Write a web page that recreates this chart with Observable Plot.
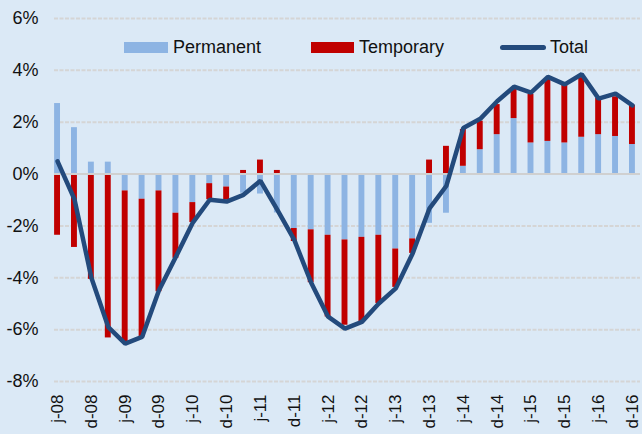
<!DOCTYPE html>
<html>
<head>
<meta charset="utf-8">
<script src="https://cdn.jsdelivr.net/npm/d3@7"></script>
<script src="https://cdn.jsdelivr.net/npm/@observablehq/plot@0.6"></script>
<style>
  html, body { margin: 0; padding: 0; background: #dbe9f6; }
  #wrap { position: relative; width: 642px; height: 434px; background: #dbe9f6; font-family: "Liberation Sans", Arial, sans-serif; }
  .legend { position: absolute; top: 36px; left: 0; width: 642px; height: 22px; font-size: 18px; color: #111; }
  .item { position: absolute; top: 0; display: flex; align-items: center; height: 22px; white-space: nowrap; }
  .sw { display: inline-block; width: 44px; height: 11px; margin-right: 5px; }
  .ln { display: inline-block; width: 46px; height: 5px; border-radius: 3px; margin-right: 4px; }
</style>
</head>
<body>
<div id="wrap"></div>
<script>
const quarters = ["j-08","s-08","d-08","m-09","j-09","s-09","d-09","m-10","j-10","s-10","d-10","m-11","j-11","s-11","d-11","m-12","j-12","s-12","d-12","m-13","j-13","s-13","d-13","m-14","j-14","s-14","d-14","m-15","j-15","s-15","d-15","m-16","j-16","s-16","d-16"];
const tickLabels = ["j-08","d-08","j-09","d-09","j-10","d-10","j-11","d-11","j-12","d-12","j-13","d-13","j-14","d-14","j-15","d-15","j-16","d-16"];
const permanent = [2.72,1.79,0.46,0.46,-0.65,-0.97,-0.65,-1.51,-1.10,-0.37,-0.50,-0.74,-0.77,-1.50,-2.10,-2.15,-2.36,-2.54,-2.44,-2.36,-2.89,-2.50,-1.90,-1.51,0.30,0.94,1.52,2.14,1.20,1.26,1.20,1.42,1.52,1.45,1.14];
const temporary = [-2.36,-2.83,-4.06,-6.32,-5.83,-5.31,-3.89,-1.74,-0.77,-0.62,-0.50,0.14,0.54,0.14,-0.50,-2.04,-3.15,-3.29,-3.26,-2.63,-1.48,-0.56,0.54,1.07,1.42,1.10,1.16,1.12,1.87,2.39,2.22,2.30,1.40,1.53,1.51];
const total = [0.49,-0.97,-4.00,-5.90,-6.54,-6.28,-4.48,-3.19,-1.87,-0.99,-1.06,-0.80,-0.26,-1.38,-2.54,-4.19,-5.50,-5.96,-5.70,-4.99,-4.41,-3.06,-1.32,-0.45,1.78,2.13,2.81,3.37,3.14,3.75,3.46,3.85,2.91,3.10,2.65];
const yTicks = [-8,-6,-4,-2,0,2,4,6];

const colors = {Permanent: "#8db4e3", Temporary: "#c00000", Total: "#234a7c"};

const bars = [];
quarters.forEach((q, i) => {
  bars.push({q, type: "Permanent", v: permanent[i]});
  bars.push({q, type: "Temporary", v: temporary[i]});
});
const lineData = quarters.map((q, i) => ({q, v: total[i]}));

const chart = Plot.plot({
  width: 642,
  height: 434,
  marginTop: 18,
  marginBottom: 53,
  marginLeft: 54,
  marginRight: 2,
  style: {background: "transparent", fontFamily: "Liberation Sans, Arial, sans-serif", fontSize: "18px", color: "#111"},
  x: {type: "band", domain: quarters, range: [48.6, 640.4], padding: 0, ticks: tickLabels, tickSize: 0, tickPadding: 13, tickRotate: -90, label: null},
  y: {domain: [-8, 6], ticks: yTicks, tickSize: 0, tickPadding: 16, tickFormat: d => d + "%", label: null},
  marks: [
    Plot.ruleY(yTicks.filter(d => d !== 0), {stroke: "#d5d5d5", strokeWidth: 2, strokeDasharray: "4,1.5"}),
    Plot.barY(bars, Plot.stackY({order: ["Permanent","Temporary"], x: "q", y: "v", z: "type", fill: d => colors[d.type], insetLeft: 5.5, insetRight: 5.5})),
    Plot.ruleY([0], {stroke: "#d0d0d0", strokeWidth: 2}),
    Plot.lineY(lineData, {x: "q", y: "v", stroke: colors.Total, strokeWidth: 4.5, strokeLinejoin: "miter", strokeLinecap: "round"})
  ]
});
chart.querySelectorAll("g[aria-label='x-axis tick label']").forEach(g => g.setAttribute("font-size", "17"));
chart.querySelectorAll("g[aria-label='x-axis tick label'] text").forEach(t => t.style.fontSize = "17px");
const wrap = document.getElementById("wrap");
wrap.appendChild(chart);

const legend = document.createElement("div");
legend.className = "legend";
legend.innerHTML = `
  <div class="item" style="left:124px"><span class="sw" style="background:${colors.Permanent}"></span>Permanent</div>
  <div class="item" style="left:311px"><span class="sw" style="background:${colors.Temporary};width:43px"></span>Temporary</div>
  <div class="item" style="left:500px"><span class="ln" style="background:${colors.Total}"></span>Total</div>`;
wrap.appendChild(legend);
</script>
</body>
</html>
